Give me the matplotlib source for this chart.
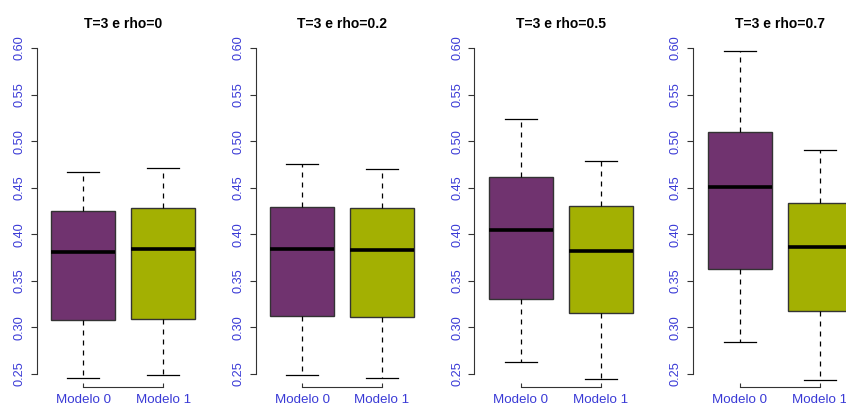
import matplotlib
matplotlib.use('Agg')
import matplotlib.pyplot as plt

plt.rcParams['font.family'] = ['Liberation Sans', 'DejaVu Sans']

titles = ['T=3 e rho=0', 'T=3 e rho=0.2', 'T=3 e rho=0.5', 'T=3 e rho=0.7']
models = ['Modelo 0', 'Modelo 1']

# five-number summaries: [low whisker, Q1, median, Q3, high whisker]
m0 = [[0.246, 0.308, 0.381, 0.425, 0.467],
      [0.249, 0.312, 0.384, 0.429, 0.475],
      [0.263, 0.331, 0.405, 0.462, 0.524],
      [0.284, 0.363, 0.451, 0.510, 0.597]]
m1 = [[0.249, 0.309, 0.384, 0.428, 0.471],
      [0.246, 0.311, 0.383, 0.428, 0.470],
      [0.245, 0.315, 0.382, 0.430, 0.479],
      [0.244, 0.318, 0.386, 0.434, 0.491]]

yticks = [0.25, 0.30, 0.35, 0.40, 0.45, 0.50, 0.55, 0.60]
colors = ['#70336F', '#A3B002']
lab_col = '#3a3ad6'

W, H = 846, 408
fig = plt.figure(figsize=(W / 100, H / 100), dpi=100)

for i in range(4):
    left = 36.8 + 218.8 * i
    ax = fig.add_axes([left / W, 1 - 387 / H, 172.8 / W, 352 / H])
    stats = []
    for lab, s in zip(models, [m0[i], m1[i]]):
        stats.append({'label': lab, 'whislo': s[0], 'q1': s[1], 'med': s[2],
                      'q3': s[3], 'whishi': s[4], 'fliers': []})
    bp = ax.bxp(stats, positions=[1, 2], widths=0.8, patch_artist=True,
                showfliers=False,
                boxprops=dict(edgecolor='#333333', linewidth=1.0),
                medianprops=dict(color='black', linewidth=2.6, solid_capstyle='butt'),
                whiskerprops=dict(color='black', linewidth=0.9, linestyle=(0, (4, 4))),
                capprops=dict(color='black', linewidth=0.9), capwidths=0.4)
    for patch, c in zip(bp['boxes'], colors):
        patch.set_facecolor(c)

    ax.set_xlim(0.42, 2.58)
    ax.set_ylim(0.236, 0.614)
    ax.set_yticks(yticks)
    ax.set_yticklabels(['%.2f' % v for v in yticks], rotation=90, va='center')
    ax.set_xticks([1, 2])
    ax.set_xticklabels(models)
    for sp in ['top', 'right']:
        ax.spines[sp].set_visible(False)
    ax.spines['left'].set_bounds(0.25, 0.60)
    ax.spines['bottom'].set_bounds(1, 2)
    ax.spines['left'].set_color('#333333')
    ax.spines['bottom'].set_color('#333333')
    ax.tick_params(axis='y', direction='out', length=4.2, width=0.8, pad=4.0,
                   labelsize=9.2, labelcolor=lab_col, color='#333333')
    ax.tick_params(axis='x', direction='in', length=3, width=0.8, pad=5.2,
                   labelsize=9.6, labelcolor=lab_col, color='#333333')
    ax.patch.set_visible(False)
    fig.text((left + 86.4) / W, 1 - 24.5 / H, titles[i], ha='center', va='center',
             fontsize=10, fontweight='bold')

fig.savefig('out.png', dpi=100)
